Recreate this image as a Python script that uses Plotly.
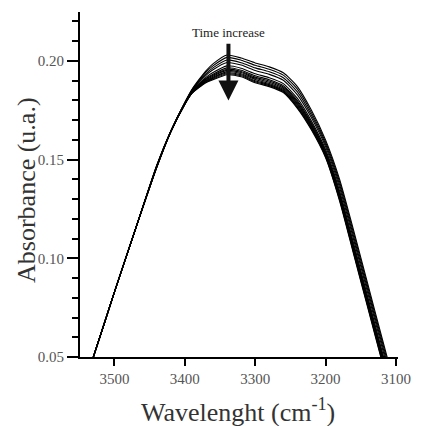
import plotly.graph_objects as go

wavenumber = [3540, 3530, 3500, 3470, 3440, 3420, 3400, 3390, 3380, 3370, 3360, 3340,
              3320, 3300, 3280, 3260, 3240, 3220, 3200, 3180, 3160, 3140, 3120, 3105]

common_start = [0.040, 0.050, 0.083, 0.115]

spectra = [
    common_start + [0.1470, 0.1645, 0.1790, 0.1855, 0.1905, 0.1950, 0.1985, 0.2030, 0.2015, 0.1990, 0.1970, 0.1940, 0.1870, 0.1750, 0.1600, 0.1400, 0.1140, 0.0870, 0.0600, 0.0400],
    common_start + [0.1469, 0.1644, 0.1789, 0.1853, 0.1900, 0.1943, 0.1975, 0.2018, 0.2004, 0.1978, 0.1958, 0.1928, 0.1857, 0.1738, 0.1589, 0.1387, 0.1126, 0.0856, 0.0586, 0.0386],
    common_start + [0.1468, 0.1644, 0.1788, 0.1850, 0.1895, 0.1935, 0.1965, 0.2005, 0.1991, 0.1965, 0.1945, 0.1915, 0.1843, 0.1725, 0.1578, 0.1373, 0.1110, 0.0840, 0.0570, 0.0370],
    common_start + [0.1466, 0.1643, 0.1786, 0.1847, 0.1890, 0.1927, 0.1955, 0.1992, 0.1979, 0.1952, 0.1932, 0.1902, 0.1828, 0.1712, 0.1566, 0.1358, 0.1094, 0.0824, 0.0554, 0.0354],
    common_start + [0.1465, 0.1642, 0.1785, 0.1844, 0.1883, 0.1917, 0.1941, 0.1975, 0.1963, 0.1935, 0.1915, 0.1885, 0.1810, 0.1695, 0.1551, 0.1340, 0.1074, 0.0804, 0.0534, 0.0334],
    common_start + [0.1464, 0.1642, 0.1784, 0.1842, 0.1879, 0.1911, 0.1933, 0.1965, 0.1953, 0.1925, 0.1905, 0.1875, 0.1799, 0.1685, 0.1542, 0.1329, 0.1062, 0.0792, 0.0522, 0.0322],
    common_start + [0.1463, 0.1641, 0.1783, 0.1841, 0.1876, 0.1907, 0.1927, 0.1958, 0.1947, 0.1918, 0.1898, 0.1868, 0.1791, 0.1678, 0.1535, 0.1321, 0.1054, 0.0784, 0.0514, 0.0314],
    common_start + [0.1462, 0.1641, 0.1782, 0.1839, 0.1874, 0.1903, 0.1923, 0.1952, 0.1941, 0.1912, 0.1892, 0.1862, 0.1784, 0.1672, 0.1530, 0.1314, 0.1046, 0.0776, 0.0506, 0.0306],
    common_start + [0.1462, 0.1641, 0.1782, 0.1838, 0.1871, 0.1900, 0.1918, 0.1946, 0.1935, 0.1906, 0.1886, 0.1856, 0.1778, 0.1666, 0.1524, 0.1308, 0.1039, 0.0769, 0.0499, 0.0299],
    common_start + [0.1461, 0.1641, 0.1781, 0.1837, 0.1869, 0.1896, 0.1913, 0.1940, 0.1930, 0.1900, 0.1880, 0.1850, 0.1771, 0.1660, 0.1519, 0.1301, 0.1032, 0.0762, 0.0492, 0.0292],
    common_start + [0.1460, 0.1640, 0.1781, 0.1836, 0.1867, 0.1893, 0.1909, 0.1935, 0.1925, 0.1895, 0.1875, 0.1845, 0.1765, 0.1655, 0.1515, 0.1296, 0.1026, 0.0756, 0.0486, 0.0286],
    common_start + [0.1460, 0.1640, 0.1780, 0.1835, 0.1865, 0.1890, 0.1905, 0.1930, 0.1920, 0.1890, 0.1870, 0.1840, 0.1760, 0.1650, 0.1510, 0.1290, 0.1020, 0.0750, 0.0480, 0.0280],
]

x_ticks = [3500, 3400, 3300, 3200, 3100]
y_ticks = [0.05, 0.10, 0.15, 0.20]

FONT = "Liberation Serif"

fig = go.Figure()
for s in spectra:
    fig.add_trace(go.Scatter(x=wavenumber, y=s, mode="lines",
                             line=dict(color="black", width=1.1, shape="spline", smoothing=0.6),
                             showlegend=False, hoverinfo="skip"))

fig.update_layout(
    width=423, height=426,
    margin=dict(l=80, r=19, t=12, b=69),
    paper_bgcolor="white", plot_bgcolor="white",
    font=dict(family=FONT, color="#333333"),
    xaxis=dict(range=[3549, 3097], tickvals=x_ticks, ticks="outside", ticklen=7,
               tickwidth=2, tickcolor="black", showline=True, linecolor="black",
               linewidth=2, showgrid=False, zeroline=False,
               tickfont=dict(family=FONT, size=15, color="#555555")),
    yaxis=dict(range=[0.05, 0.2248], tickvals=y_ticks, tickformat=".2f",
               ticks="outside", ticklen=11, tickwidth=2, tickcolor="black",
               showline=True, linecolor="black", linewidth=2, showgrid=False,
               zeroline=False, tickfont=dict(family=FONT, size=15, color="#555555"),
               minor=dict(dtick=0.01, tick0=0.05, ticks="outside", ticklen=6,
                          tickwidth=2, tickcolor="black", showgrid=False)),
)

# axis titles
fig.add_annotation(xref="paper", yref="paper", x=0.497, y=-0.155, yanchor="middle",
                   text="Wavelenght (cm<sup>-1</sup>)", showarrow=False,
                   font=dict(family=FONT, size=26, color="#333333"))
fig.add_annotation(xref="paper", yref="paper", x=-0.17, y=0.484, textangle=-90,
                   xanchor="center", yanchor="middle",
                   text="Absorbance (u.a.)", showarrow=False,
                   font=dict(family=FONT, size=26, color="#333333"))

# time arrow
fig.add_annotation(x=3338, y=0.180, ax=3338, ay=0.2095, xref="x", yref="y",
                   axref="x", ayref="y", text="", showarrow=True,
                   arrowhead=2, arrowsize=1, arrowwidth=4, arrowcolor="#111111")
fig.add_annotation(x=3338, y=0.2145, xref="x", yref="y", text="Time increase",
                   showarrow=False, font=dict(family=FONT, size=13, color="#222222"))

fig.write_html("out.html")
